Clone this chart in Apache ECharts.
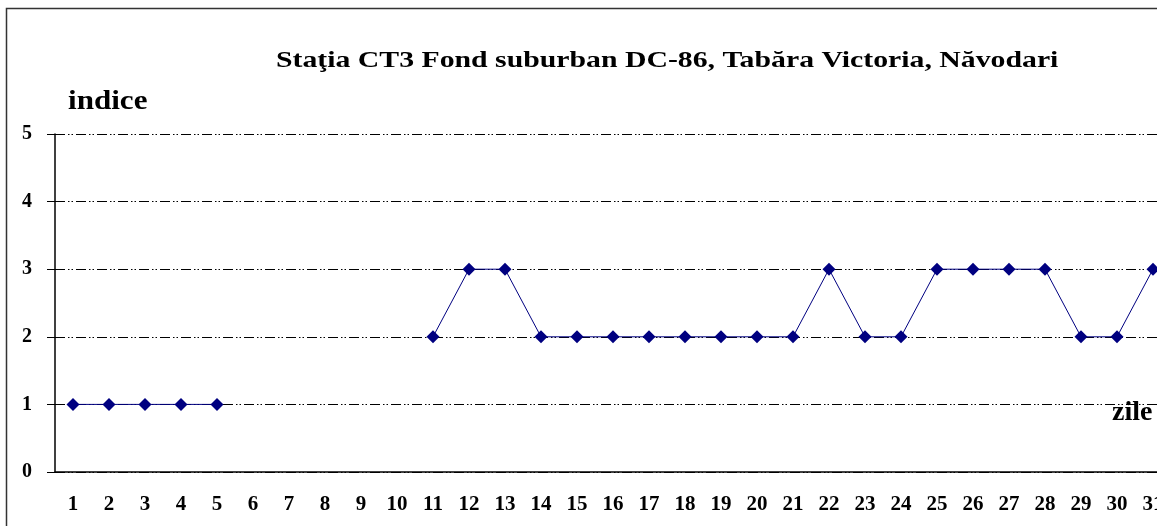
<!DOCTYPE html>
<html><head><meta charset="utf-8">
<script src="https://cdn.jsdelivr.net/npm/echarts@6/dist/echarts.min.js"></script>
<style>html,body{margin:0;padding:0;background:#fff}#c{width:1157px;height:526px}</style>
</head><body><div id="c"></div>
<script>
const days = ['1','2','3','4','5','6','7','8','9','10','11','12','13','14','15','16','17','18','19','20','21','22','23','24','25','26','27','28','29','30','31'];
const indice = [1,1,1,1,1,null,null,null,null,null,2,3,3,2,2,2,2,2,2,2,2,3,2,2,3,3,3,3,2,2,3];
const yTicks = [0,1,2,3,4,5];
const titleText = 'Staţia CT3 Fond suburban DC-86, Tabăra Victoria, Năvodari';
const yName = 'indice';
const xName = 'zile';
const font = '"Liberation Serif", "Times New Roman", serif';
const chart = echarts.init(document.getElementById('c'));
chart.setOption({
  animation:false,
  backgroundColor:'#fff',
  graphic:[
    {type:'rect',shape:{x:6.5,y:8.5,width:1200,height:600},style:{fill:'none',stroke:'#333',lineWidth:1.5},silent:true},
    {type:'text',x:276,y:49,scaleX:1.24,style:{text:titleText,font:'bold 24px '+font,fill:'#000',verticalAlign:'top'}},
    {type:'text',x:68,y:88,scaleX:1.11,style:{text:yName,font:'bold 28px '+font,fill:'#000',verticalAlign:'top'}},
    {type:'text',x:1112,y:399,scaleX:1.0,style:{text:xName,font:'bold 28px '+font,fill:'#000',verticalAlign:'top'}}
  ],
  grid:{left:55,top:134,width:1116,bottom:54,containLabel:false,outerBoundsMode:'none'},
  xAxis:{type:'category',data:days,boundaryGap:true,
    axisLine:{lineStyle:{color:'#000',width:1.5}},
    axisTick:{alignWithLabel:false,length:6,lineStyle:{color:'#000'}},
    axisLabel:{fontFamily:font,fontWeight:'bold',fontSize:21,color:'#000',margin:22,interval:0},
    splitLine:{show:false}},
  yAxis:{type:'value',min:0,max:5,interval:1,
    axisLine:{show:true,lineStyle:{color:'#000',width:1.5}},
    axisTick:{show:true,length:8,lineStyle:{color:'#000'}},
    axisLabel:{fontFamily:font,fontWeight:'bold',fontSize:20,color:'#000',margin:23,
      formatter:v=>yTicks.includes(v)?String(v):''},
    splitLine:{show:true,lineStyle:{color:'#000',width:1,type:[10,3,1.5,2,1.5,3]}}},
  series:[{type:'line',data:indice,connectNulls:false,symbol:'diamond',symbolSize:13,
    itemStyle:{color:'#000080'},lineStyle:{color:'#000080',width:1}}]
});
</script></body></html>
